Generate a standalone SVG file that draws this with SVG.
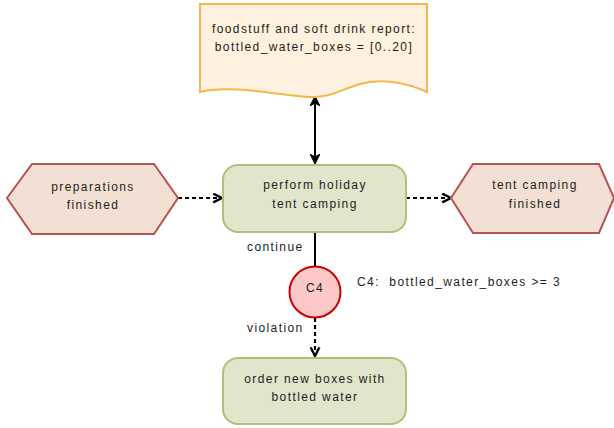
<svg xmlns="http://www.w3.org/2000/svg" width="614" height="428" viewBox="0 0 614 428">
<style>
text{font-family:"Liberation Sans",Arial,sans-serif;font-size:12px;letter-spacing:1.4px;fill:#1e1e1e}
.c{text-anchor:middle}
.doc{fill:#fff1df;stroke:#f2b84c;stroke-width:2}
.hex{fill:#f2e0d4;stroke:#b85450;stroke-width:2}
.task{fill:#e0e5cb;stroke:#adc178;stroke-width:2}
.cond{fill:#ffc8c8;stroke:#cc0000;stroke-width:2}
.ln{fill:none;stroke:#000;stroke-width:2}
.dash{stroke-dasharray:4 3;stroke-width:2.2}
</style>
<defs>
<marker id="open" viewBox="0 0 10 10" refX="9" refY="5" markerWidth="11" markerHeight="11" markerUnits="userSpaceOnUse" orient="auto">
<path d="M1,1 L9,5 L1,9" fill="none" stroke="#000" stroke-width="2.2"/>
</marker>
<marker id="fill" viewBox="0 0 10 10" refX="9" refY="5" markerWidth="10" markerHeight="10" markerUnits="userSpaceOnUse" orient="auto-start-reverse">
<path d="M0,0 L10,5 L0,10 L3,5 Z" fill="#000" stroke="#000" stroke-width="1"/>
</marker>
</defs>
<g id="connectors">
<line class="ln" x1="315" y1="97" x2="315" y2="163" marker-start="url(#fill)" marker-end="url(#fill)"/>
<line class="ln dash" x1="178" y1="198" x2="222" y2="198" marker-end="url(#open)"/>
<line class="ln dash" x1="406" y1="198" x2="451" y2="198" marker-end="url(#open)"/>
<line class="ln" x1="315" y1="232" x2="315" y2="266"/>
<line class="ln dash" x1="315" y1="318" x2="315" y2="356" marker-end="url(#open)"/>
<text x="247" y="251">continue</text>
<text x="247" y="332">violation</text>
</g>
<g id="report">
<path class="doc" d="M200,4 H427 V92 C405,82 380,78 360,84 C340,90 330,98 310,97 C285,96 230,84 200,92 Z"/>
<text class="c" x="314" y="33">foodstuff and soft drink report:</text>
<text class="c" x="314" y="51">bottled_water_boxes = [0..20]</text>
</g>
<g id="prep">
<polygon class="hex" points="7,198 32,164 154,164 178,198 154,234 32,234"/>
<text class="c" x="93" y="191">preparations</text>
<text class="c" x="93" y="209">finished</text>
</g>
<g id="task1">
<rect class="task" x="223" y="165" width="183" height="67" rx="15" ry="15"/>
<text class="c" x="315" y="189">perform holiday</text>
<text class="c" x="315" y="208">tent camping</text>
</g>
<g id="done">
<polygon class="hex" points="451,198 473,164 599,164 614,198 599,233 473,233"/>
<text class="c" x="535" y="189">tent camping</text>
<text class="c" x="535" y="208">finished</text>
</g>
<g id="c4">
<circle class="cond" cx="315" cy="292" r="25.5"/>
<text class="c" x="315" y="292">C4</text>
<text x="357" y="286">C4:&#160; bottled_water_boxes &gt;= 3</text>
</g>
<g id="task2">
<rect class="task" x="223" y="358" width="183" height="66" rx="15" ry="15"/>
<text class="c" x="315" y="383">order new boxes with</text>
<text class="c" x="315" y="401">bottled water</text>
</g>
</svg>
